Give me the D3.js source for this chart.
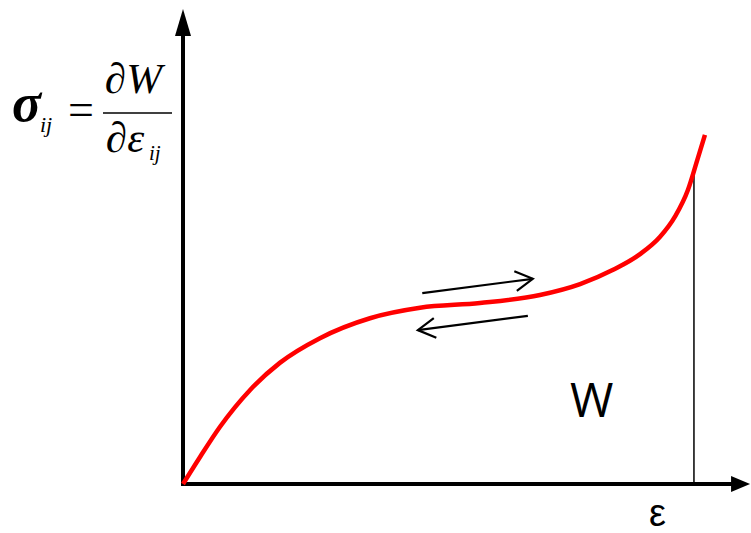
<!DOCTYPE html>
<html><head><meta charset="utf-8">
<script src="https://cdn.jsdelivr.net/npm/d3@7/dist/d3.min.js"></script>
<style>body{margin:0;background:#fff;}svg{display:block;}</style>
</head><body>
<script>
// Data (strain, stress) in arbitrary units
const strain = [0, 3.1, 6.7, 12.2, 17.6, 24.9, 34.0, 43.1, 54.0, 64.9, 72.2, 78.2, 83.1, 86.7, 89.5, 91.8, 93.5, 94.9];
const stress = [0, 5.7, 12.0, 19.8, 25.5, 30.7, 34.9, 37.1, 38.1, 39.8, 42.1, 45.1, 48.4, 52.0, 56.4, 61.9, 68.2, 73.5];
const loadArrow = [[43.5, 40.2], [63.6, 43.2]];
const unloadArrow = [[62.7, 35.4], [42.7, 32.4]];
const wStrain = 92.9;
const wStress = 65.5;
const axisMax = [103.1, 100];

const W = 751, H = 533;
const svg = d3.select("body").append("svg").attr("width", W).attr("height", H);
const x = d3.scaleLinear().domain([0, 100]).range([183, 733]);
const y = d3.scaleLinear().domain([0, 100]).range([484, 9]);

// Vertical W line
svg.append("line").attr("x1", x(wStrain)).attr("x2", x(wStrain))
  .attr("y1", y(wStress)).attr("y2", y(0)).attr("stroke", "#000").attr("stroke-width", 1.5);

// Axes
svg.append("line").attr("x1", x(0)).attr("x2", x(axisMax[0]) - 16).attr("y1", y(0)).attr("y2", y(0))
  .attr("stroke", "#000").attr("stroke-width", 4);
svg.append("line").attr("x1", x(0)).attr("x2", x(0)).attr("y1", y(0) + 2).attr("y2", y(axisMax[1]) + 22)
  .attr("stroke", "#000").attr("stroke-width", 4);
const tx = x(axisMax[0]), ty = y(0);
svg.append("path").attr("d", `M${tx},${ty} L${tx-19},${ty-8} L${tx-19},${ty+8} Z`).attr("fill", "#000");
const ux = x(0), uy = y(axisMax[1]);
svg.append("path").attr("d", `M${ux},${uy} L${ux-8},${uy+27} L${ux+8},${uy+27} Z`).attr("fill", "#000");

// Curve
const line = d3.line().x(d => x(d[0])).y(d => y(d[1])).curve(d3.curveMonotoneX);
const pts = strain.map((s, i) => [s, stress[i]]);
svg.append("path").attr("d", line(pts)).attr("fill", "none").attr("stroke", "#ff0000")
  .attr("stroke-width", 4.5).attr("stroke-linecap", "butt");

// Loading/unloading arrows
function arrow(a) {
  const x1 = x(a[0][0]), y1 = y(a[0][1]), x2 = x(a[1][0]), y2 = y(a[1][1]);
  const ang = Math.atan2(y2 - y1, x2 - x1);
  const L = 20, t = 0.52;
  const g = svg.append("g").attr("stroke", "#000").attr("stroke-width", 2.2).attr("fill", "none");
  g.append("line").attr("x1", x1).attr("y1", y1).attr("x2", x2).attr("y2", y2);
  g.append("path").attr("d",
    `M${x2 - L*Math.cos(ang - t)},${y2 - L*Math.sin(ang - t)} L${x2},${y2} L${x2 - L*Math.cos(ang + t)},${y2 - L*Math.sin(ang + t)}`);
}
arrow(loadArrow);
arrow(unloadArrow);

// Labels
svg.append("text").attr("x", 570).attr("y", 417).attr("font-family", "Open Sans, sans-serif")
  .attr("font-size", 47).text("W");
svg.append("text").attr("x", 649).attr("y", 526).attr("font-family", "Liberation Sans, sans-serif")
  .attr("font-size", 38).text("ε");

// Formula
const f = svg.append("g").attr("font-family", "Liberation Serif, Times New Roman, serif").attr("font-style", "italic");
f.append("text").attr("x", 12).attr("y", 121).attr("font-size", 54).attr("font-weight", "bold").text("σ");
f.append("text").attr("x", 40).attr("y", 132).attr("font-size", 22).text("ij");
f.append("text").attr("x", 68).attr("y", 125).attr("font-size", 46).attr("font-style", "normal").text("=");
f.append("line").attr("x1", 103).attr("x2", 172).attr("y1", 113).attr("y2", 113).attr("stroke", "#000").attr("stroke-width", 1.5);
f.append("text").attr("x", 105).attr("y", 93).attr("font-size", 43).text("∂W");
f.append("text").attr("x", 106).attr("y", 152).attr("font-size", 43).text("∂ε");
f.append("text").attr("x", 149).attr("y", 160).attr("font-size", 21).text("ij");
</script>
</body></html>
